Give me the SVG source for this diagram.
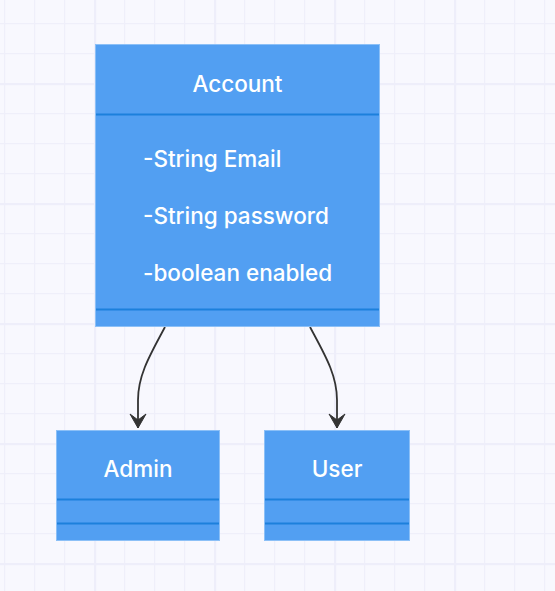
<svg xmlns="http://www.w3.org/2000/svg" width="555" height="591" viewBox="0 0 555 591">
<defs>
<pattern id="minor" x="4" y="23" width="30" height="30" patternUnits="userSpaceOnUse">
<path d="M0.5 0V30M0 0.5H30" stroke="#efeffa" stroke-width="1.5" fill="none"/>
</pattern>
<pattern id="major" x="94" y="83" width="120" height="120" patternUnits="userSpaceOnUse">
<path d="M1 0V120M0 1H120" stroke="#eeeefa" stroke-width="2.5" fill="none"/>
</pattern>
<marker id="arrow" viewBox="0 0 20 20" refX="16" refY="10" markerWidth="20" markerHeight="20" markerUnits="userSpaceOnUse" orient="auto">
<path d="M2 2 L16 10 L2 18 L8 10 Z" fill="#333333" stroke="#333333" stroke-width="1" stroke-linejoin="round"/>
</marker>
</defs>
<style>
.box{fill:#529ff2;stroke:#8cc0f7;stroke-width:1}
.sep{stroke:#1c80dc;stroke-width:2}
.t{font-family:Inter,"Noto Sans",sans-serif;font-size:22.5px;font-weight:500;fill:#ffffff}
.edge{fill:none;stroke:#333333;stroke-width:1.8}
</style>
<rect width="555" height="591" fill="#f8f8fe"/>
<rect width="555" height="591" fill="url(#minor)"/>
<rect width="555" height="591" fill="url(#major)"/>

<g id="edges">
<path class="edge" d="M165 327 C150 355 138 375 138 400 L138 428" marker-end="url(#arrow)"/>
<path class="edge" d="M310 327 C325 355 337 375 337 400 L337 428" marker-end="url(#arrow)"/>
</g>

<g id="Account">
<rect class="box" x="95.5" y="44.5" width="284" height="282"/>
<line class="sep" x1="96" y1="114.5" x2="379" y2="114.5"/>
<line class="sep" x1="96" y1="309.5" x2="379" y2="309.5"/>
<text class="t" x="237.5" y="92" text-anchor="middle">Account</text>
<text class="t" x="143" y="167">-String Email</text>
<text class="t" x="143" y="224">-String password</text>
<text class="t" x="143" y="281">-boolean enabled</text>
</g>

<g id="Admin">
<rect class="box" x="56.5" y="430.5" width="163" height="110"/>
<line class="sep" x1="57" y1="499.5" x2="219" y2="499.5"/>
<line class="sep" x1="57" y1="523.5" x2="219" y2="523.5"/>
<text class="t" x="138" y="477" text-anchor="middle">Admin</text>
</g>

<g id="User">
<rect class="box" x="264.5" y="430.5" width="145" height="110"/>
<line class="sep" x1="265" y1="499.5" x2="409" y2="499.5"/>
<line class="sep" x1="265" y1="523.5" x2="409" y2="523.5"/>
<text class="t" x="337" y="477" text-anchor="middle">User</text>
</g>
</svg>
